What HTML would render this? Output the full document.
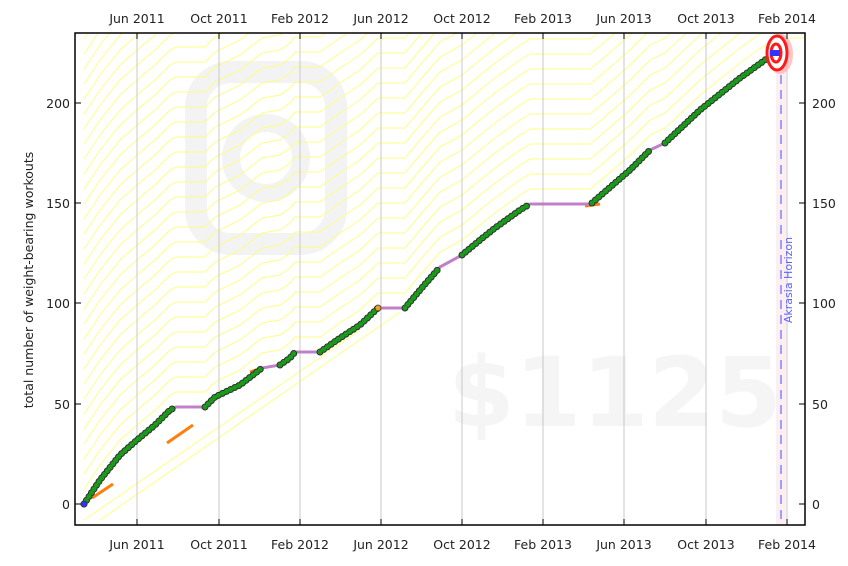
<!DOCTYPE html>
<html><head><meta charset="utf-8"><style>
body{margin:0;background:#fff;width:848px;height:561px;overflow:hidden}
svg{font-family:"DejaVu Sans","Liberation Sans",sans-serif}
</style></head><body>
<svg width="848" height="561" viewBox="0 0 848 561" xmlns="http://www.w3.org/2000/svg">
<defs>
<clipPath id="c"><rect x="75" y="33" width="730" height="492"/></clipPath>
<path id="road" d="M84,504 L100,480 L120,455 L137,440 L155,425 L170,410 L176,407 L205,407 L215,397 L240,385 L262,368 L280,365 L290,358 L295,352 L320,352 L340,338 L360,325 L378,308 L405,308 L420,290 L440,267 L462,255 L480,240 L495,228 L520,210 L530,204 L590,204 L600,196 L615,183 L630,170 L650,150 L665,143 L700,110 L740,78 L775,53 L820,53"/>
</defs>
<g clip-path="url(#c)">
<rect x="196" y="72" width="140" height="172" rx="35" fill="none" stroke="#f3f3f3" stroke-width="22"/>
<circle cx="266" cy="158" r="35" fill="none" stroke="#f3f3f3" stroke-width="18"/>
<text x="615" y="426" font-size="96" font-weight="bold" fill="#f5f5f5" text-anchor="middle">$1125</text>
<g fill="none" stroke="#ffff70" stroke-width="1" opacity="0.85">
<use href="#road" transform="translate(0,-15)"/><use href="#road" transform="translate(0,-30)"/><use href="#road" transform="translate(0,-45)"/><use href="#road" transform="translate(0,-60)"/><use href="#road" transform="translate(0,-75)"/><use href="#road" transform="translate(0,-90)"/><use href="#road" transform="translate(0,-105)"/><use href="#road" transform="translate(0,-120)"/><use href="#road" transform="translate(0,-135)"/><use href="#road" transform="translate(0,-150)"/><use href="#road" transform="translate(0,-165)"/><use href="#road" transform="translate(0,-180)"/><use href="#road" transform="translate(0,-195)"/><use href="#road" transform="translate(0,-210)"/><use href="#road" transform="translate(0,-225)"/><use href="#road" transform="translate(0,-240)"/><use href="#road" transform="translate(0,-255)"/><use href="#road" transform="translate(0,-270)"/><use href="#road" transform="translate(0,-285)"/><use href="#road" transform="translate(0,-300)"/><use href="#road" transform="translate(0,-315)"/><use href="#road" transform="translate(0,-330)"/><use href="#road" transform="translate(0,-345)"/><use href="#road" transform="translate(0,-360)"/><use href="#road" transform="translate(0,-375)"/><use href="#road" transform="translate(0,-390)"/><use href="#road" transform="translate(0,-405)"/><use href="#road" transform="translate(0,-420)"/><use href="#road" transform="translate(0,-435)"/><use href="#road" transform="translate(0,-450)"/><use href="#road" transform="translate(0,-465)"/>
<path d="M84,520 L360,330" />
<path d="M100,520 L400,312" />
</g>
<g stroke="#c8c8c8" stroke-width="1">
<line x1="137" y1="33" x2="137" y2="525"/><line x1="219" y1="33" x2="219" y2="525"/><line x1="300" y1="33" x2="300" y2="525"/><line x1="381" y1="33" x2="381" y2="525"/><line x1="462" y1="33" x2="462" y2="525"/><line x1="543" y1="33" x2="543" y2="525"/><line x1="624" y1="33" x2="624" y2="525"/><line x1="706" y1="33" x2="706" y2="525"/><line x1="787" y1="33" x2="787" y2="525"/>
</g>
<rect x="776" y="33" width="10" height="492" fill="#fdeef3"/>
<line x1="781" y1="60" x2="781" y2="525" stroke="#9f9ff5" stroke-width="2" stroke-dasharray="9,6"/>
<text transform="translate(792,280) rotate(-90)" font-size="11" fill="#6060ff" text-anchor="middle">Akrasia Horizon</text>
<g stroke="#ff7f0e" stroke-width="3" fill="none">
<line x1="92" y1="498" x2="113" y2="484"/><line x1="167" y1="443" x2="193" y2="425"/><line x1="250" y1="372" x2="262" y2="368"/><line x1="585" y1="206" x2="600" y2="204"/>
</g>
<g fill="none">
<path d="M84,504 L100,480 L120,455 L137,440 L155,425 L170,410 L176,407 L205,407 L215,397 L240,385 L262,368 L280,365 L290,358 L295,352 L320,352 L340,338 L360,325 L378,308 L405,308 L420,290 L440,267 L462,255 L480,240 L495,228 L520,210 L530,204 L590,204 L600,196 L615,183 L630,170 L650,150 L665,143 L700,110 L740,78 L775,53" stroke="#c080c8" stroke-width="3"/>
<path d="M84,504 L100,480 L120,455 L137,440 L155,425 L170,410 L176,407 M205,407 L215,397 L240,385 L262,368 M280,365 L290,358 L295,352 M320,352 L340,338 L360,325 L378,308 M405,308 L420,290 L440,267 M462,255 L480,240 L495,228 L520,210 L530,204 M592,203 L600,196 L615,183 L630,170 L650,150 M665,143 L700,110 L740,78 L772,55" stroke="#303030" stroke-width="7" stroke-linecap="round" stroke-dasharray="0 4.5"/>
<path d="M84,504 L100,480 L120,455 L137,440 L155,425 L170,410 L176,407 M205,407 L215,397 L240,385 L262,368 M280,365 L290,358 L295,352 M320,352 L340,338 L360,325 L378,308 M405,308 L420,290 L440,267 M462,255 L480,240 L495,228 L520,210 L530,204 M592,203 L600,196 L615,183 L630,170 L650,150 M665,143 L700,110 L740,78 L772,55" stroke="#1a9a1a" stroke-width="5" stroke-linecap="round" stroke-dasharray="0 4.5"/>
</g>
<circle cx="378" cy="308" r="3" fill="#f0a020" stroke="#333" stroke-width="0.8"/>
<circle cx="84" cy="504" r="3" fill="#3333ff" stroke="#333" stroke-width="0.8"/>
<ellipse cx="780" cy="54" rx="13" ry="20" fill="#ffb0b0" opacity="0.75"/>
<ellipse cx="777" cy="53" rx="10" ry="17" fill="#fff" stroke="#ff1a1a" stroke-width="3"/>
<ellipse cx="776" cy="53" rx="5" ry="9" fill="#fff" stroke="#ff1a1a" stroke-width="3"/>
<rect x="770" y="50" width="10" height="6" fill="#3333ff"/>
</g>
<rect x="75" y="33" width="730" height="492" fill="none" stroke="#000" stroke-width="1.5"/>
<g stroke="#000" stroke-width="1">
<path d="M75,504h6M75,404h6M75,303h6M75,203h6M75,103h6M805,504h-6M805,404h-6M805,303h-6M805,203h-6M805,103h-6"/>
<path d="M137,525v-6M219,525v-6M300,525v-6M381,525v-6M462,525v-6M543,525v-6M624,525v-6M706,525v-6M787,525v-6M137,33v6M219,33v6M300,33v6M381,33v6M462,33v6M543,33v6M624,33v6M706,33v6M787,33v6"/>
</g>
<g font-size="12.5" fill="#222">
<g text-anchor="end"><text x="70" y="509">0</text><text x="70" y="409">50</text><text x="70" y="308">100</text><text x="70" y="208">150</text><text x="70" y="108">200</text></g>
<g text-anchor="start"><text x="812" y="509">0</text><text x="812" y="409">50</text><text x="812" y="308">100</text><text x="812" y="208">150</text><text x="812" y="108">200</text></g>
<g text-anchor="middle"><text x="137" y="549">Jun 2011</text><text x="219" y="549">Oct 2011</text><text x="300" y="549">Feb 2012</text><text x="381" y="549">Jun 2012</text><text x="462" y="549">Oct 2012</text><text x="543" y="549">Feb 2013</text><text x="624" y="549">Jun 2013</text><text x="706" y="549">Oct 2013</text><text x="787" y="549">Feb 2014</text>
<text x="137" y="23">Jun 2011</text><text x="219" y="23">Oct 2011</text><text x="300" y="23">Feb 2012</text><text x="381" y="23">Jun 2012</text><text x="462" y="23">Oct 2012</text><text x="543" y="23">Feb 2013</text><text x="624" y="23">Jun 2013</text><text x="706" y="23">Oct 2013</text><text x="787" y="23">Feb 2014</text></g>
<text transform="translate(33,280) rotate(-90)" text-anchor="middle">total number of weight-bearing workouts</text>
</g>
</svg>
</body></html>
